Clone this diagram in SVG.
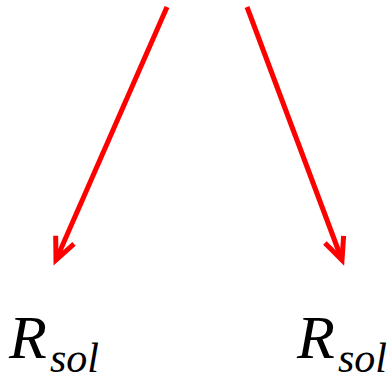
<svg xmlns="http://www.w3.org/2000/svg" width="391" height="380" viewBox="0 0 391 380">
<style>
.conn{stroke:#ff0000;stroke-width:5;fill:none;}
.lbl{font-family:serif;font-style:italic;fill:#000000;}
</style>
<defs>
<marker id="vh" markerUnits="userSpaceOnUse" markerWidth="40" markerHeight="40" viewBox="-30 -20 40 40" refX="0" refY="0" orient="auto">
<path d="M -22,-10 L 0,0 L -22,10" fill="none" stroke="#ff0000" stroke-width="5" stroke-linejoin="miter"/>
</marker>
</defs>
<g id="connectors">
<line class="conn" x1="167" y1="7" x2="56" y2="260" marker-end="url(#vh)"/>
<line class="conn" x1="247" y1="7" x2="342" y2="260" marker-end="url(#vh)"/>
</g>
<g id="node-left" class="lbl">
<text x="9" y="358" font-size="62">R</text>
<text x="50" y="372" font-size="42">sol</text>
</g>
<g id="node-right" class="lbl">
<text x="297" y="358" font-size="62">R</text>
<text x="338" y="372" font-size="42">sol</text>
</g>
</svg>
